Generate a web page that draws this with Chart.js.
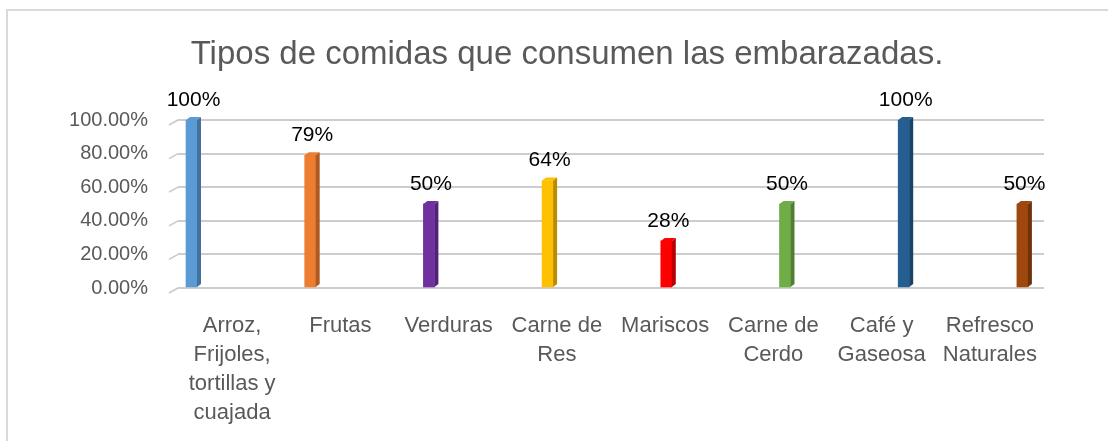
<!DOCTYPE html>
<html>
<head>
<meta charset="utf-8">
<script src="https://cdn.jsdelivr.net/npm/chart.js@4.4.1/dist/chart.umd.min.js"></script>
<style>
    body { margin: 0; background: #fff; }
    #wrap { position: relative; width: 1108px; height: 441px; }
    #frame {
        position: absolute; left: 6px; top: 9px; right: 0; bottom: 0;
        border-left: 2px solid #d9d9d9; border-top: 2px solid #d9d9d9;
        pointer-events: none;
    }
    canvas { position: absolute; left: 0; top: 0; }
</style>
</head>
<body>
<div id="wrap">
    <canvas id="foodChart" width="1108" height="441"></canvas>
    <div id="frame"></div>
</div>
<script>
// Data
const categories = [
    ['Arroz,', 'Frijoles,', 'tortillas y', 'cuajada'],
    ['Frutas'],
    ['Verduras'],
    ['Carne de', 'Res'],
    ['Mariscos'],
    ['Carne de', 'Cerdo'],
    ['Café y', 'Gaseosa'],
    ['Refresco', 'Naturales']
];
const percentages = [100, 79, 50, 64, 28, 50, 100, 50];
const yTicks = [0, 20, 40, 60, 80, 100];
const chartTitle = 'Tipos de comidas que consumen las embarazadas.';

// Colours (front face / side face)
const faceColors = ['#5b9bd5', '#ed7d31', '#7030a0', '#ffc000', '#ff0000', '#70ad47', '#255e91', '#9e480e'];
const sideColors = ['#41719c', '#ae5a21', '#512277', '#bc8c00', '#b80000', '#507e32', '#1a4369', '#6f320a'];

// Draws the depth faces of each bar, the floor stubs and the value labels
const depthPlugin = {
    id: 'depth',
    beforeDatasetsDraw(chart) {
        const { ctx, chartArea, scales } = chart;
        ctx.save();
        ctx.strokeStyle = '#c8c8c8';
        ctx.lineWidth = 1.5;
        yTicks.forEach(t => {
            const y = scales.y.getPixelForValue(t);
            ctx.beginPath();
            ctx.moveTo(chartArea.left - 9, y + 5);
            ctx.lineTo(chartArea.left, y);
            ctx.stroke();
        });
        ctx.restore();
    },
    afterDatasetsDraw(chart) {
        const ctx = chart.ctx;
        const dx = 4, dy = 3;
        ctx.save();
        chart.getDatasetMeta(0).data.forEach((bar, i) => {
            const p = bar.getProps(['x', 'y', 'base', 'width'], true);
            const l = p.x - p.width / 2, r = p.x + p.width / 2;
            ctx.fillStyle = sideColors[i];
            ctx.beginPath();
            ctx.moveTo(r, p.y);
            ctx.lineTo(r + dx, p.y - dy);
            ctx.lineTo(r + dx, p.base - dy);
            ctx.lineTo(r, p.base);
            ctx.closePath();
            ctx.fill();
            ctx.fillStyle = faceColors[i];
            ctx.beginPath();
            ctx.moveTo(l, p.y);
            ctx.lineTo(l + dx, p.y - dy);
            ctx.lineTo(r + dx, p.y - dy);
            ctx.lineTo(r, p.y);
            ctx.closePath();
            ctx.fill();
        });
        ctx.restore();
    },
    afterDraw(chart) {
        const ctx = chart.ctx;
        ctx.save();
        ctx.font = '21px "Liberation Sans"';
        ctx.fillStyle = '#000';
        ctx.textAlign = 'center';
        ctx.textBaseline = 'alphabetic';
        chart.getDatasetMeta(0).data.forEach((bar, i) => {
            const p = bar.getProps(['x', 'y'], true);
            ctx.fillText(Math.round(percentages[i]) + '%', p.x + 2, p.y - 14);
        });
        ctx.restore();
    }
};

const ctx = document.getElementById('foodChart').getContext('2d');
const foodChart = new Chart(ctx, {
    type: 'bar',
    data: {
        labels: categories,
        datasets: [{
            data: percentages.map((v, i) => ({ x: i, y: v })),
            xAxisID: 'xb',
            backgroundColor: faceColors,
            barThickness: 11,
            borderWidth: 0
        }]
    },
    options: {
        responsive: false,
        animation: false,
        devicePixelRatio: 1,
        layout: { padding: { left: 26, right: 0, top: 0, bottom: 0 } },
        plugins: {
            legend: { display: false },
            tooltip: { enabled: false },
            title: {
                display: true,
                text: chartTitle,
                color: '#595959',
                font: { family: 'Liberation Sans', size: 33, weight: 'normal', lineHeight: 1.2 },
                padding: { top: 35, bottom: 45.4 }
            }
        },
        scales: {
            x: {
                type: 'category',
                grid: { display: false },
                border: { display: false },
                ticks: {
                    color: '#595959',
                    font: { family: 'Liberation Sans', size: 22, lineHeight: 1.32 },
                    maxRotation: 0,
                    autoSkip: false,
                    padding: 15
                },
                afterFit(scale) { scale.height = 153; }
            },
            xb: {
                type: 'linear',
                display: false,
                offset: false,
                grid: { offset: false },
                min: -0.1137,
                max: 7.182
            },
            y: {
                min: 0,
                max: 100,
                grid: { color: '#cdcdcd', lineWidth: 2, drawTicks: false },
                border: { display: false },
                ticks: {
                    stepSize: 20,
                    color: '#595959',
                    padding: 30,
                    font: { family: 'Liberation Sans', size: 20 },
                    callback: value => value.toFixed(2) + '%'
                },
                afterFit(scale) { scale.width = 152; }
            },
            yr: {
                type: 'linear',
                position: 'right',
                grid: { display: false },
                border: { display: false },
                ticks: { display: false },
                afterFit(scale) { scale.width = 64; }
            }
        }
    },
    plugins: [depthPlugin]
});
</script>
</body>
</html>
